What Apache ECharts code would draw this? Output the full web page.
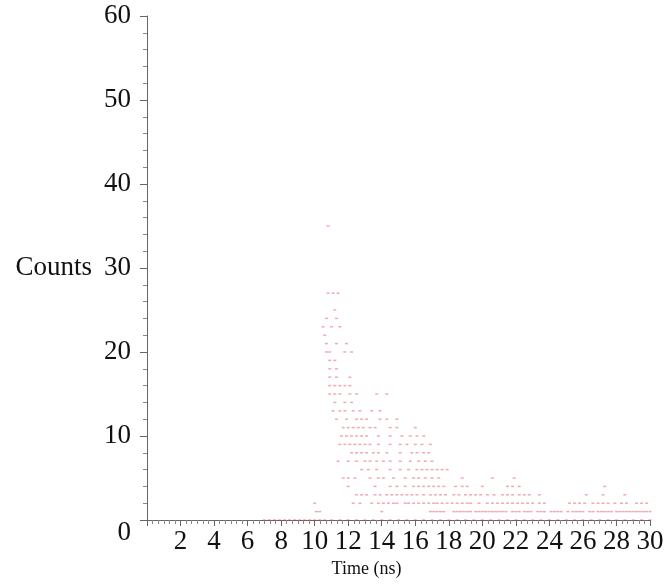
<!DOCTYPE html>
<html>
<head>
<meta charset="utf-8">
<script src="https://cdn.jsdelivr.net/npm/echarts@6/dist/echarts.min.js"></script>
<style>
html,body{margin:0;padding:0;background:#fff;}
#chart{width:668px;height:584px;}
</style>
</head>
<body>
<div id="chart"></div>
<script>
// Times (ns) of the points, grouped by their count value
const t0 = [7.0, 7.3, 7.6, 7.9, 8.2, 8.5, 8.8, 9.1, 9.4, 9.7, 10.0, 10.3, 10.6, 11.0, 11.5, 12.0, 12.5, 13.0, 13.5, 14.0, 14.5, 15.0, 15.5, 16.0, 16.5, 17.0, 17.5, 18.0, 18.5, 19.0, 19.5, 20.0, 20.5, 21.0, 21.5, 22.0, 22.5, 23.0, 23.5, 24.0, 24.5, 25.0, 25.5, 26.0, 26.5, 27.0, 27.5, 28.0, 28.5, 29.0, 29.5, 30.0];
const t1 = [10.1, 10.3, 14.0, 16.9, 17.1, 17.3, 17.5, 17.7, 18.3, 18.5, 18.7, 18.9, 19.1, 19.3, 19.6, 19.8, 20.0, 20.2, 20.4, 20.6, 20.8, 21.0, 21.2, 21.4, 21.8, 22.0, 22.2, 22.5, 22.7, 22.9, 23.3, 23.5, 23.7, 24.1, 24.3, 24.5, 24.7, 25.1, 25.4, 25.6, 25.8, 26.0, 26.4, 26.6, 26.9, 27.1, 27.3, 27.5, 27.7, 28.0, 28.2, 28.4, 28.6, 28.8, 29.0, 29.2, 29.4, 29.6, 29.8, 30.0];
const t2 = [10.0, 12.3, 12.7, 13.4, 13.8, 14.1, 14.4, 14.7, 14.9, 15.4, 15.6, 15.9, 16.2, 16.5, 16.8, 17.1, 17.3, 17.6, 17.9, 18.2, 18.5, 18.8, 19.1, 19.3, 19.8, 20.3, 20.6, 20.9, 21.2, 21.5, 21.8, 22.1, 22.4, 22.7, 23.0, 23.4, 23.7, 25.2, 25.5, 25.8, 26.1, 26.6, 26.9, 27.2, 27.5, 27.9, 28.3, 28.6, 29.2, 29.5, 29.8];
const t3 = [12.5, 12.8, 13.1, 13.6, 13.9, 14.3, 14.6, 14.9, 15.2, 15.5, 15.8, 16.1, 16.5, 16.9, 17.2, 17.5, 17.8, 18.3, 18.6, 19.0, 19.3, 19.6, 19.9, 20.3, 20.7, 21.2, 21.5, 21.8, 22.2, 22.5, 22.8, 23.4, 26.2, 27.2, 28.5];
const t4 = [12.0, 13.6, 14.5, 14.9, 15.4, 15.9, 16.2, 16.5, 16.8, 17.1, 17.4, 17.7, 18.4, 18.8, 19.1, 20.0, 21.5, 21.8, 22.2, 27.3];
const t5 = [11.7, 12.0, 12.4, 13.3, 13.8, 14.1, 14.7, 15.4, 15.9, 16.2, 16.6, 17.0, 17.4, 18.8, 20.6, 21.9];
const t6 = [12.8, 13.2, 13.7, 14.5, 15.1, 15.6, 16.1, 16.4, 16.7, 17.0, 17.3, 17.6, 17.9];
const t7 = [11.4, 12.0, 12.5, 13.0, 13.3, 13.7, 14.1, 14.5, 15.1, 15.7, 16.2, 16.6, 17.0];
const t8 = [12.2, 12.5, 12.8, 13.1, 13.5, 13.8, 14.3, 15.1, 15.8, 16.1, 16.5, 16.8];
const t9 = [11.5, 11.8, 12.1, 12.4, 12.7, 13.0, 13.3, 13.8, 14.5, 15.1, 15.5, 16.0, 16.4, 16.9];
const t10 = [11.6, 11.9, 12.2, 12.5, 12.8, 13.1, 13.8, 14.5, 15.2, 15.7, 16.1, 16.5];
const t11 = [11.7, 12.0, 12.3, 12.6, 12.9, 13.3, 13.6, 14.5, 14.9, 16.0];
const t12 = [11.3, 11.9, 12.5, 12.8, 13.1, 13.9, 14.3, 14.9];
const t13 = [11.1, 11.5, 11.8, 12.3, 12.7, 13.4, 13.9];
const t14 = [11.2, 11.8, 12.2];
const t15 = [10.9, 11.2, 11.5, 12.1, 12.5, 13.7, 14.3];
const t16 = [10.9, 11.2, 11.5, 11.8, 12.1];
const t17 = [10.9, 11.3, 12.1];
const t18 = [10.9, 11.3];
const t19 = [10.9, 11.2];
const t20 = [10.7, 10.9, 11.8, 12.2];
const t21 = [10.7, 11.3, 11.9];
const t22 = [10.6];
const t23 = [10.5, 11.0, 11.5];
const t24 = [10.7, 11.3];
const t25 = [11.2];
const t27 = [10.8, 11.1, 11.4];
const t35 = [10.8];

const countLevels = [0, 1, 2, 3, 4, 5, 6, 7, 8, 9, 10, 11, 12, 13, 14, 15, 16, 17, 18, 19, 20, 21, 22, 23, 24, 25, 27, 35];
const timeRows = [t0, t1, t2, t3, t4, t5, t6, t7, t8, t9, t10, t11, t12, t13, t14, t15, t16, t17, t18, t19, t20, t21, t22, t23, t24, t25, t27, t35];

const xTicks = [0, 30, 2];   // min, max, step
const yTicks = [0, 60, 10];

const points = [];
countLevels.forEach((c, i) => timeRows[i].forEach(t => points.push([t, c])));

const serif = 'Liberation Serif, DejaVu Serif, serif';
const axisCol = '#666';

const chart = echarts.init(document.getElementById('chart'), null, {renderer: 'canvas'});
chart.setOption({
  animation: false,
  backgroundColor: '#fff',
  grid: {left: 147, right: 18, top: 16, bottom: 64, containLabel: false},
  xAxis: {
    type: 'value', min: xTicks[0], max: xTicks[1], interval: xTicks[2],
    name: 'Time (ns)', nameLocation: 'middle', nameGap: 31,
    nameTextStyle: {fontFamily: serif, fontSize: 18, color: '#111', padding: [0, 64, 0, 0]},
    axisLine: {show: true, onZero: false, lineStyle: {color: axisCol, width: 1}},
    axisTick: {show: true, length: 6, lineStyle: {color: axisCol}},
    minorTick: {show: true, splitNumber: 6, length: 4, lineStyle: {color: '#888'}},
    splitLine: {show: false},
    axisLabel: {fontFamily: serif, fontSize: 27, color: '#111', margin: 8,
      formatter: v => (v === 0 ? '' : String(v))}
  },
  yAxis: {
    type: 'value', min: yTicks[0], max: yTicks[1], interval: yTicks[2],
    name: 'Counts', nameLocation: 'middle', nameRotate: 0, nameGap: 55,
    nameTextStyle: {fontFamily: serif, fontSize: 27, color: '#111', align: 'right', verticalAlign: 'middle'},
    axisLine: {show: true, onZero: false, lineStyle: {color: axisCol, width: 1}},
    axisTick: {show: true, length: 7, lineStyle: {color: axisCol}},
    minorTick: {show: true, splitNumber: 5, length: 4, lineStyle: {color: '#888'}},
    splitLine: {show: false},
    axisLabel: {fontFamily: serif, fontSize: 27, color: '#111', margin: 16,
      formatter: v => (v === 0 ? '{z|0}' : String(v)),
      rich: {z: {fontFamily: serif, fontSize: 27, color: '#111', padding: [26, 0, 0, 0]}}}
  },
  series: [{
    type: 'scatter',
    data: points,
    symbol: 'rect',
    symbolSize: [3, 1.5],
    itemStyle: {color: 'rgba(220,40,60,0.5)'},
    silent: true
  }]
});
</script>
</body>
</html>
